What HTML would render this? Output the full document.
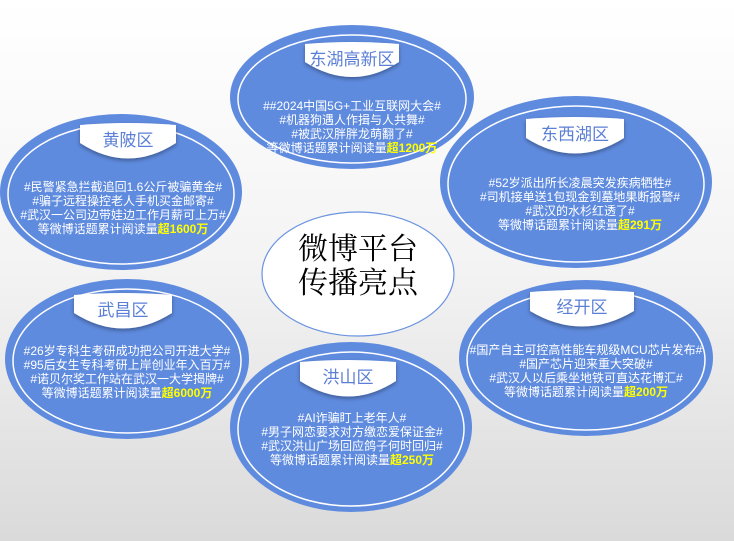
<!DOCTYPE html>
<html><head><meta charset="utf-8"><style>
html,body{margin:0;padding:0;width:734px;height:541px;overflow:hidden}
svg{display:block}
.t{font-family:"Liberation Sans","Noto Sans CJK SC",sans-serif;font-size:12px;fill:#fff;text-anchor:middle}
.y{fill:#ffff00;font-weight:bold}
.l{font-family:"Liberation Sans","Noto Sans CJK SC",sans-serif;font-size:17px;fill:#5b7fd6;text-anchor:middle}
</style></head><body>
<svg width="734" height="541" viewBox="0 0 734 541">
<defs>
<linearGradient id="bg" x1="0" y1="0" x2="0" y2="1">
<stop offset="0" stop-color="#ffffff"/><stop offset="0.5" stop-color="#f3f3f3"/><stop offset="1" stop-color="#dadada"/></linearGradient>
<filter id="sh" x="-20%" y="-20%" width="140%" height="160%"><feDropShadow dx="0" dy="2" stdDeviation="2" flood-color="#000" flood-opacity="0.35"/></filter>
</defs>
<rect width="734" height="541" fill="url(#bg)"/>

<g>
<ellipse cx="352" cy="97" rx="122" ry="72" fill="#5f8bdf"/>
<ellipse cx="352" cy="99" rx="114" ry="64" fill="none" stroke="#fff" stroke-width="1.5"/>
<ellipse cx="121" cy="192" rx="121" ry="78" fill="#5f8bdf"/>
<ellipse cx="121" cy="194" rx="113" ry="70" fill="none" stroke="#fff" stroke-width="1.5"/>
<ellipse cx="576" cy="182" rx="136" ry="86" fill="#5f8bdf"/>
<ellipse cx="576" cy="184" rx="128" ry="78" fill="none" stroke="#fff" stroke-width="1.5"/>
<ellipse cx="127" cy="359" rx="122" ry="80" fill="#5f8bdf"/>
<ellipse cx="127" cy="361" rx="114" ry="72" fill="none" stroke="#fff" stroke-width="1.5"/>
<ellipse cx="351" cy="427" rx="121" ry="85" fill="#5f8bdf"/>
<ellipse cx="351" cy="429" rx="113" ry="77" fill="none" stroke="#fff" stroke-width="1.5"/>
<ellipse cx="586" cy="358" rx="127" ry="78" fill="#5f8bdf"/>
<ellipse cx="586" cy="360" rx="119" ry="70" fill="none" stroke="#fff" stroke-width="1.5"/>
</g>

<ellipse cx="358" cy="274" rx="96" ry="62" fill="#fff" stroke="#6a93e0" stroke-width="1.2"/>
<text x="358" y="259" font-family="'Noto Serif CJK SC',serif" font-size="30" text-anchor="middle">微博平台</text>
<text x="358" y="293" font-family="'Noto Serif CJK SC',serif" font-size="30" text-anchor="middle">传播亮点</text>

<g filter="url(#sh)" fill="#fff">
<path d="M305,44 Q352,40 399,44 L399,62 Q352,92 305,62 Z"/>
<path d="M80,125 Q128,121 176,125 L176,143 Q128,174 80,143 Z"/>
<path d="M526,119 Q575,115 624,119 L624,138 Q575,169 526,138 Z"/>
<path d="M74,295 Q123,291 172,295 L172,313 Q123,344 74,313 Z"/>
<path d="M300,362 Q348,358 396,362 L396,381 Q348,412 300,381 Z"/>
<path d="M530,292 Q582,288 634,292 L634,311 Q582,342 530,311 Z"/>
</g>
<text class="l" x="352" y="65">东湖高新区</text>
<text class="l" x="128" y="146">黄陂区</text>
<text class="l" x="575" y="140">东西湖区</text>
<text class="l" x="123" y="316">武昌区</text>
<text class="l" x="348" y="383">洪山区</text>
<text class="l" x="582" y="313">经开区</text>

<g class="t">
<text x="352" y="110">##2024中国5G+工业互联网大会#</text>
<text x="352" y="124">#机器狗遇人作揖与人共舞#</text>
<text x="352" y="138">#被武汉胖胖龙萌翻了#</text>
<text x="352" y="152">等微博话题累计阅读量<tspan class="y">超1200万</tspan></text>

<text x="123" y="191">#民警紧急拦截追回1.6公斤被骗黄金#</text>
<text x="123" y="205">#骗子远程操控老人手机买金邮寄#</text>
<text x="123" y="219">#武汉一公司边带娃边工作月薪可上万#</text>
<text x="123" y="233">等微博话题累计阅读量<tspan class="y">超1600万</tspan></text>

<text x="580" y="187">#52岁派出所长凌晨突发疾病牺牲#</text>
<text x="580" y="201">#司机接单送1包现金到墓地果断报警#</text>
<text x="580" y="215">#武汉的水杉红透了#</text>
<text x="580" y="229">等微博话题累计阅读量<tspan class="y">超291万</tspan></text>

<text x="127" y="355">#26岁专科生考研成功把公司开进大学#</text>
<text x="127" y="369">#95后女生专科考研上岸创业年入百万#</text>
<text x="127" y="383">#诺贝尔奖工作站在武汉一大学揭牌#</text>
<text x="127" y="397">等微博话题累计阅读量<tspan class="y">超6000万</tspan></text>

<text x="352" y="422">#AI诈骗盯上老年人#</text>
<text x="352" y="436">#男子网恋要求对方缴恋爱保证金#</text>
<text x="352" y="450">#武汉洪山广场回应鸽子何时回归#</text>
<text x="352" y="464">等微博话题累计阅读量<tspan class="y">超250万</tspan></text>

<text x="586" y="354">#国产自主可控高性能车规级MCU芯片发布#</text>
<text x="586" y="368">#国产芯片迎来重大突破#</text>
<text x="586" y="382">#武汉人以后乘坐地铁可直达花博汇#</text>
<text x="586" y="396">等微博话题累计阅读量<tspan class="y">超200万</tspan></text>
</g>
</svg>
</body></html>
